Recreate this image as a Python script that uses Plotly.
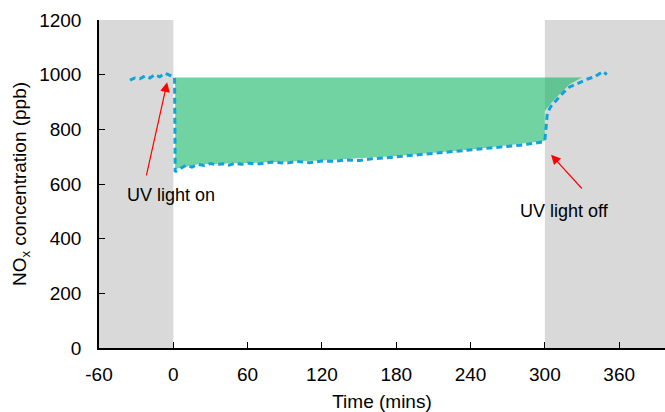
import plotly.graph_objects as go

# Measured NOx curve (time in minutes, concentration in ppb)
time_min = [-35, -31, -27, -23, -19, -15, -11, -7, -4, -1, 1,
            1.5, 5, 10, 15, 20, 25, 30, 35, 40, 45, 50, 55, 60, 70, 80, 90, 100, 110,
            120, 130, 140, 150, 160, 170, 180, 190, 200, 210, 220, 230, 240, 250, 260,
            270, 280, 290, 297, 299, 300, 301, 302, 305, 310, 315, 320, 325, 330, 335,
            340, 345, 347, 350]
nox_ppb = [980, 988, 985, 995, 988, 1000, 992, 1005, 1000, 995, 990,
           645, 655, 668, 662, 672, 668, 675, 670, 674, 669, 676, 672, 676, 674, 680, 676, 682, 678,
           684, 683, 688, 686, 692, 695, 700, 703, 708, 712, 716, 720, 724, 728, 733,
           737, 742, 748, 752, 755, 760, 800, 860, 885, 910, 935, 955, 965, 975, 985,
           992, 1008, 1012, 1000]

# Shaded (green) area outline
fill_time = [1.5, 20, 60, 120, 180, 240, 300, 300, 305, 310, 320, 330, 330, 1.5]
fill_ppb = [655, 672, 677, 686, 702, 726, 757, 868, 895, 920, 965, 990, 990, 990]

# Dark periods (grey)
dark_periods = [(-60, 0), (300, 400)]

x_ticks = [-60, 0, 60, 120, 180, 240, 300, 360]
x_tick_labels = ["-60", "0", "60", "120", "180", "240", "300", "360"]
y_ticks = [0, 200, 400, 600, 800, 1000, 1200]

font = "Liberation Sans, Arial, sans-serif"

fig = go.Figure()

fig.add_trace(go.Scatter(
    x=fill_time, y=fill_ppb, mode="lines", fill="toself",
    fillcolor="rgba(20,182,100,0.6)", line=dict(width=0), hoverinfo="skip",
    showlegend=False))

fig.add_trace(go.Scatter(
    x=time_min, y=nox_ppb, mode="lines",
    line=dict(color="#0ea3db", width=3, dash="6px,4px"),
    showlegend=False))

shapes = []
for x0, x1 in dark_periods:
    shapes.append(dict(type="rect", xref="x", yref="y", x0=x0, x1=x1, y0=0, y1=1200,
                       fillcolor="#d9d9d9", line=dict(width=0), layer="below"))

annotations = [
    dict(x=-5, y=972, ax=-22, ay=626, xref="x", yref="y", axref="x", ayref="y",
         text="", showarrow=True, arrowhead=2, arrowsize=1.6, arrowwidth=1.2,
         arrowcolor="#ff0000"),
    dict(x=-2, y=560, xref="x", yref="y", text="UV light on", showarrow=False,
         font=dict(family=font, size=18, color="#000000")),
    dict(x=305, y=707, ax=331, ay=578, xref="x", yref="y", axref="x", ayref="y",
         text="", showarrow=True, arrowhead=2, arrowsize=1.6, arrowwidth=1.2,
         arrowcolor="#ff0000"),
    dict(x=316, y=503, xref="x", yref="y", text="UV light off", showarrow=False,
         font=dict(family=font, size=18, color="#000000")),
]

fig.update_layout(
    width=665, height=412,
    margin=dict(l=99, r=0, t=20, b=64),
    paper_bgcolor="white", plot_bgcolor="white",
    font=dict(family=font, size=19, color="#000000"),
    shapes=shapes, annotations=annotations,
    xaxis=dict(range=[-60, 397], tickvals=x_ticks, ticktext=x_tick_labels,
               ticks="inside", ticklen=6,
               tickcolor="black", showline=True, linecolor="black", linewidth=1.5,
               showgrid=False, zeroline=False, automargin=False,
               ticklabelstandoff=8,
               title=dict(text="Time (mins)", font=dict(size=19), standoff=12),
               tickfont=dict(size=19)),
    yaxis=dict(range=[0, 1200], tickvals=y_ticks, ticks="inside", ticklen=6,
               tickcolor="black", showline=True, linecolor="black", linewidth=1.5,
               showgrid=False, zeroline=False, automargin=False,
               ticklabelstandoff=12,
               title=dict(text="NO<sub>x</sub> concentration (ppb)", font=dict(size=19), standoff=8),
               tickfont=dict(size=19)),
)

fig.write_html("out.html", config={"displayModeBar": False},
               post_script="document.body.style.margin='0';")
